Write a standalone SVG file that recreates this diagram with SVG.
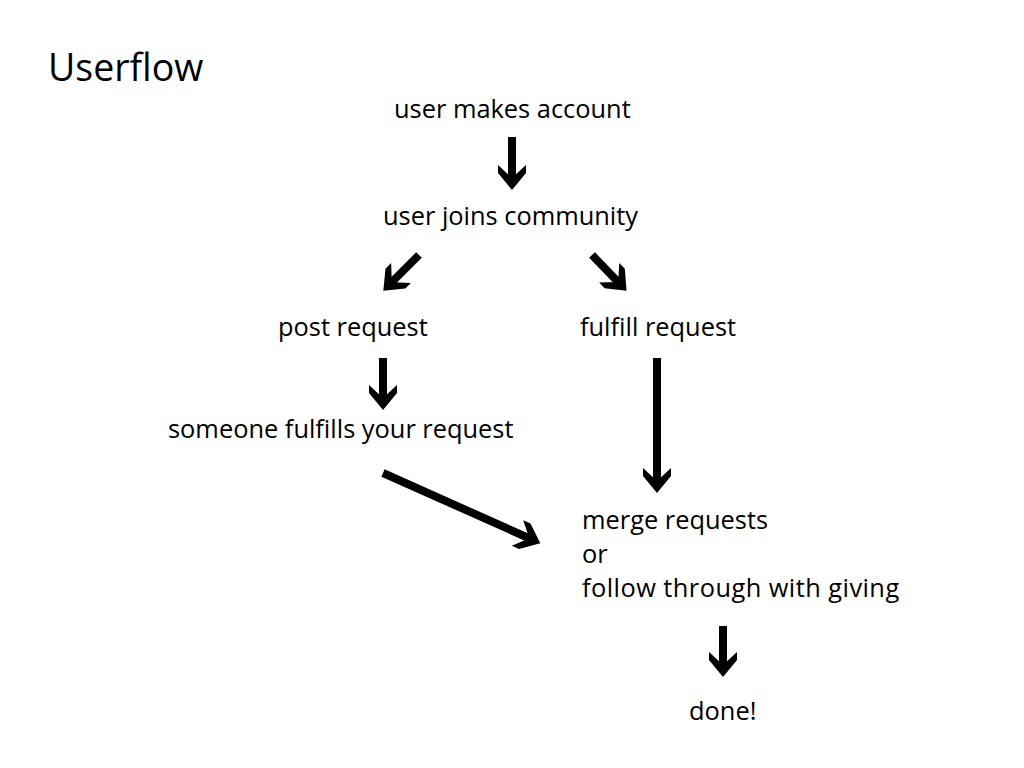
<svg xmlns="http://www.w3.org/2000/svg" width="1024" height="768" viewBox="0 0 1024 768">
<style>
text{font-family:"Open Sans","Noto Sans",sans-serif;fill:#000;font-size:25.4px}
.title{font-size:37.5px}
.c{stroke:#000;stroke-width:8;fill:none;stroke-linecap:butt}
</style>
<defs>
<marker id="ah" markerUnits="userSpaceOnUse" markerWidth="40" markerHeight="40" viewBox="-20 -20 40 40" refX="0" refY="0" orient="auto" overflow="visible">
<path d="M8,0 L-9,-14 L-17,-14 L-4,0 L-17,14 L-9,14 Z" fill="#000"/>
</marker>
</defs>
<rect width="1024" height="768" fill="#fff"/>
<text class="title" x="48" y="81">Userflow</text>
<g id="n1"><text x="394" y="118">user makes account</text></g>
<g id="n2"><text x="383" y="225">user joins community</text></g>
<g id="n3"><text x="278" y="336">post request</text></g>
<g id="n4"><text x="580" y="336">fulfill request</text></g>
<g id="n5"><text x="168" y="438">someone fulfills your request</text></g>
<g id="n6"><text x="582" y="529">merge requests</text><text x="582" y="563">or</text><text x="582" y="597" letter-spacing="0.45">follow through with giving</text></g>
<g id="n7"><text x="689" y="720">done!</text></g>
<g id="connectors">
<line class="c" x1="512" y1="137" x2="512" y2="182" marker-end="url(#ah)"/>
<line class="c" x1="419" y1="255" x2="389" y2="285" marker-end="url(#ah)"/>
<line class="c" x1="592" y1="255" x2="621" y2="285" marker-end="url(#ah)"/>
<line class="c" x1="383" y1="358" x2="383" y2="402" marker-end="url(#ah)"/>
<line class="c" x1="383" y1="473" x2="533" y2="540" marker-end="url(#ah)"/>
<line class="c" x1="657" y1="358" x2="657" y2="485" marker-end="url(#ah)"/>
<line class="c" x1="723" y1="626" x2="723" y2="669" marker-end="url(#ah)"/>
</g>
</svg>
